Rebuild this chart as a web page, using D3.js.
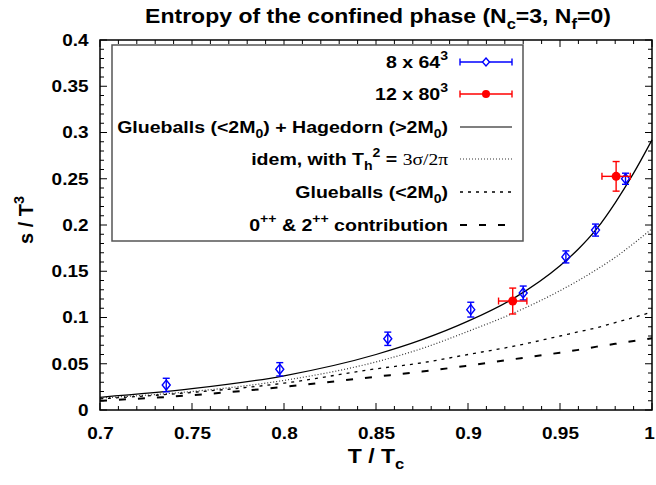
<!DOCTYPE html>
<html><head><meta charset="utf-8">
<script src="https://cdn.jsdelivr.net/npm/d3@7"></script>
<style>
html,body{margin:0;padding:0;background:#fff;}
text{font-family:"Liberation Sans",Arial,Helvetica,sans-serif;font-weight:bold;fill:#000;}
</style></head>
<body><svg id="c" width="656" height="485"></svg>
<script>
// ---- data ----
const blueT   = [0.736, 0.7977, 0.8564, 0.9015, 0.930, 0.9532, 0.9693, 0.9856];
const blueS   = [0.027, 0.0440, 0.0770, 0.1085, 0.1265, 0.1655, 0.1945, 0.2500];
const blueErr = [0.0073, 0.0072, 0.0072, 0.0080, 0.0075, 0.0065, 0.0065, 0.0060];
const redT    = [0.9243, 0.9805];
const redS    = [0.1178, 0.2526];
const redErrS = [0.0140, 0.0160];
const redErrT = [0.0077, 0.0077];

const curveT      = [0.70, 0.75, 0.80, 0.85, 0.875, 0.90, 0.925, 0.95, 0.96, 0.97, 0.98, 0.99, 1.00];
const hagedorn    = [0.0137, 0.023, 0.037, 0.060, 0.076, 0.096, 0.121, 0.156, 0.174, 0.196, 0.224, 0.256, 0.292];
const idemTh      = [0.013, 0.020, 0.032, 0.052, 0.0665, 0.085, 0.105, 0.129, 0.140, 0.152, 0.165, 0.180, 0.196];
const glueballs   = [0.012, 0.019, 0.029, 0.0445, 0.051, 0.060, 0.069, 0.080, 0.0845, 0.089, 0.0945, 0.100, 0.106];
const contrib0022 = [0.010, 0.016, 0.025, 0.036, 0.0415, 0.048, 0.055, 0.062, 0.065, 0.0685, 0.0715, 0.0745, 0.0775];

const xTicks = [0.7, 0.75, 0.8, 0.85, 0.9, 0.95, 1];
const yTicks = [0, 0.05, 0.1, 0.15, 0.2, 0.25, 0.3, 0.35, 0.4];

// ---- layout ----
const L = 100, R = 652, T = 40, B = 410;
const SX = 1.15; // horizontal stretch of the lettering
const svg = d3.select("#c");
const x = d3.scaleLinear().domain([0.7, 1.0]).range([L, R]);
const y = d3.scaleLinear().domain([0, 0.4]).range([B, T]);

// ticks (inward, all four sides)
const xMinor = d3.range(70, 101).map(v => v / 100);
const yMinor = d3.range(0, 41).map(v => v / 100);
const tk = svg.append("g").attr("stroke", "#000").attr("stroke-width", 1);
const isMajX = v => xTicks.some(t => Math.abs(t - v) < 1e-6);
const isMajY = v => yTicks.some(t => Math.abs(t - v) < 1e-6);
xMinor.forEach(v => {
  const len = isMajX(v) ? 7 : 4;
  tk.append("line").attr("x1", x(v)).attr("x2", x(v)).attr("y1", B).attr("y2", B - len);
  tk.append("line").attr("x1", x(v)).attr("x2", x(v)).attr("y1", T).attr("y2", T + len);
});
yMinor.forEach(v => {
  const len = isMajY(v) ? 7 : 4;
  tk.append("line").attr("y1", y(v)).attr("y2", y(v)).attr("x1", L).attr("x2", L + len);
  tk.append("line").attr("y1", y(v)).attr("y2", y(v)).attr("x1", R).attr("x2", R - len);
});

// tick labels via d3 axes
const fmt = d => String(+d.toFixed(2));
const xAx = svg.append("g").attr("transform", `translate(0,${B})`)
  .call(d3.axisBottom(x).tickValues(xTicks).tickSize(0).tickPadding(17).tickFormat(fmt));
const yAx = svg.append("g").attr("transform", `translate(${L},0)`)
  .call(d3.axisLeft(y).tickValues(yTicks).tickSize(0).tickPadding(10).tickFormat(fmt));
[xAx, yAx].forEach(g => {
  g.select(".domain").remove();
  g.selectAll("text").attr("font-family", "Liberation Sans, Arial, sans-serif").attr("font-weight", "bold")
    .attr("font-size", 16.5).attr("fill", "#000").attr("transform", `scale(${SX},1)`);
});
// keep the last x label inside the canvas
xAx.selectAll("text").filter(d => d === 1).attr("dx", -2.5);

// curves
const line = d3.line().x(d => x(d[0])).y(d => y(d[1])).curve(d3.curveMonotoneX);
const curveDefs = [
  {vals: hagedorn,    dash: null,  w: 1.3, col: "#000"},
  {vals: idemTh,      dash: "1,2", w: 1.2, col: "#333"},
  {vals: glueballs,   dash: "3,5", w: 1.3, col: "#000"},
  {vals: contrib0022, dash: "7,12", w: 2.0, col: "#000"}
];
const cg = svg.append("g").attr("fill", "none");
curveDefs.forEach(c => {
  cg.append("path").attr("d", line(curveT.map((t, i) => [t, c.vals[i]])))
    .attr("stroke", c.col).attr("stroke-width", c.w).attr("stroke-dasharray", c.dash);
});

// data points
const cap = 3.5;
function diamond(g, cx, cy) {
  g.append("path").attr("d", `M${cx},${cy-5}L${cx+4},${cy}L${cx},${cy+5}L${cx-4},${cy}Z`)
    .attr("fill", "none").attr("stroke", "#0000ff").attr("stroke-width", 1.4);
}
const bg = svg.append("g").attr("stroke", "#0000ff").attr("stroke-width", 1.4);
blueT.forEach((t, i) => {
  const cx = x(t), y1 = y(blueS[i] - blueErr[i]), y2 = y(blueS[i] + blueErr[i]);
  bg.append("line").attr("x1", cx).attr("x2", cx).attr("y1", y1).attr("y2", y2);
  bg.append("line").attr("x1", cx - cap).attr("x2", cx + cap).attr("y1", y1).attr("y2", y1);
  bg.append("line").attr("x1", cx - cap).attr("x2", cx + cap).attr("y1", y2).attr("y2", y2);
  diamond(bg, cx, y(blueS[i]));
});
const rg = svg.append("g").attr("stroke", "#ff0000").attr("stroke-width", 1.4);
redT.forEach((t, i) => {
  const cx = x(t), cy = y(redS[i]);
  const y1 = y(redS[i] - redErrS[i]), y2 = y(redS[i] + redErrS[i]);
  const x1 = x(t - redErrT[i]), x2 = x(t + redErrT[i]);
  rg.append("line").attr("x1", cx).attr("x2", cx).attr("y1", y1).attr("y2", y2);
  rg.append("line").attr("x1", cx - cap).attr("x2", cx + cap).attr("y1", y1).attr("y2", y1);
  rg.append("line").attr("x1", cx - cap).attr("x2", cx + cap).attr("y1", y2).attr("y2", y2);
  rg.append("line").attr("x1", x1).attr("x2", x2).attr("y1", cy).attr("y2", cy);
  rg.append("line").attr("x1", x1).attr("x2", x1).attr("y1", cy - cap).attr("y2", cy + cap);
  rg.append("line").attr("x1", x2).attr("x2", x2).attr("y1", cy - cap).attr("y2", cy + cap);
  rg.append("circle").attr("cx", cx).attr("cy", cy).attr("r", 4.5).attr("fill", "#ff0000").attr("stroke", "none");
});

// frame
svg.append("rect").attr("x", L).attr("y", T).attr("width", R - L).attr("height", B - T)
  .attr("fill", "none").attr("stroke", "#000").attr("stroke-width", 1.5);

// rich text helper (stretched horizontally)
function rich(parent, xx, yy, segs, size, anchor, sx) {
  const g = parent.append("g").attr("transform", `translate(${xx},${yy}) scale(${sx},1)`);
  const t = g.append("text").attr("x", 0).attr("y", 0).attr("font-size", size).attr("text-anchor", anchor);
  let shift = 0;
  segs.forEach(s => {
    const target = s.s === "sup" ? -0.45 * size : s.s === "sub" ? 0.3 * size : 0;
    const sp = t.append("tspan").text(s.t).attr("dy", target - shift);
    shift = target;
    if (s.s) sp.attr("font-size", size * 0.72);
    if (s.serif) sp.attr("font-family", "Liberation Serif, Times New Roman, serif").attr("font-weight", "normal");
  });
  return t;
}

// title
rich(svg, 378, 23, [{t: "Entropy of the confined phase (N"}, {t: "c", s: "sub"}, {t: "=3, N"}, {t: "f", s: "sub"}, {t: "=0)"}], 20, "middle", SX);
// axis titles
rich(svg, 376, 463, [{t: "T / T"}, {t: "c", s: "sub"}], 20, "middle", SX);
const yl = svg.append("g").attr("transform", "translate(33,220) rotate(-90)");
rich(yl, 0, 0, [{t: "s / T"}, {t: "3", s: "sup"}], 20, "middle", 1.0);

// legend
const lg = svg.append("g");
lg.append("rect").attr("x", 112).attr("y", 45).attr("width", 411).attr("height", 196)
  .attr("fill", "#fff").attr("stroke", "#555").attr("stroke-width", 1.5);
const rowsY = [62, 94, 127, 159, 192, 225];
const labels = [
  [{t: "8 x 64"}, {t: "3", s: "sup"}],
  [{t: "12 x 80"}, {t: "3", s: "sup"}],
  [{t: "Glueballs (<2M"}, {t: "0", s: "sub"}, {t: ") + Hagedorn (>2M"}, {t: "0", s: "sub"}, {t: ")"}],
  [{t: "idem, with T"}, {t: "h", s: "sub"}, {t: "2", s: "sup"}, {t: " = "}, {t: "3σ/2π", serif: true}],
  [{t: "Glueballs (<2M"}, {t: "0", s: "sub"}, {t: ")"}],
  [{t: "0"}, {t: "++", s: "sup"}, {t: " & 2"}, {t: "++", s: "sup"}, {t: " contribution"}]
];
labels.forEach((segs, i) => rich(lg, 448, rowsY[i] + 6, segs, 17, "end", SX));
const sx1 = 460, sx2 = 512, smid = 486;
// blue sample
const lb = lg.append("g").attr("stroke", "#0000ff").attr("stroke-width", 1.4);
lb.append("line").attr("x1", sx1).attr("x2", sx2).attr("y1", rowsY[0]).attr("y2", rowsY[0]);
lb.append("line").attr("x1", sx1).attr("x2", sx1).attr("y1", rowsY[0] - cap).attr("y2", rowsY[0] + cap);
lb.append("line").attr("x1", sx2).attr("x2", sx2).attr("y1", rowsY[0] - cap).attr("y2", rowsY[0] + cap);
lb.append("path").attr("d", `M${smid},${rowsY[0]-4}L${smid+3.5},${rowsY[0]}L${smid},${rowsY[0]+4}L${smid-3.5},${rowsY[0]}Z`).attr("fill", "#fff");
// red sample
const lr = lg.append("g").attr("stroke", "#ff0000").attr("stroke-width", 1.4);
lr.append("line").attr("x1", sx1).attr("x2", sx2).attr("y1", rowsY[1]).attr("y2", rowsY[1]);
lr.append("line").attr("x1", sx1).attr("x2", sx1).attr("y1", rowsY[1] - cap).attr("y2", rowsY[1] + cap);
lr.append("line").attr("x1", sx2).attr("x2", sx2).attr("y1", rowsY[1] - cap).attr("y2", rowsY[1] + cap);
lr.append("circle").attr("cx", smid).attr("cy", rowsY[1]).attr("r", 4).attr("fill", "#ff0000").attr("stroke", "none");
// line samples
curveDefs.forEach((c, i) => {
  lg.append("line").attr("x1", sx1).attr("x2", sx2).attr("y1", rowsY[i + 2]).attr("y2", rowsY[i + 2])
    .attr("stroke", i === 0 ? "#555" : c.col).attr("stroke-width", c.w).attr("stroke-dasharray", c.dash);
});
</script></body></html>
